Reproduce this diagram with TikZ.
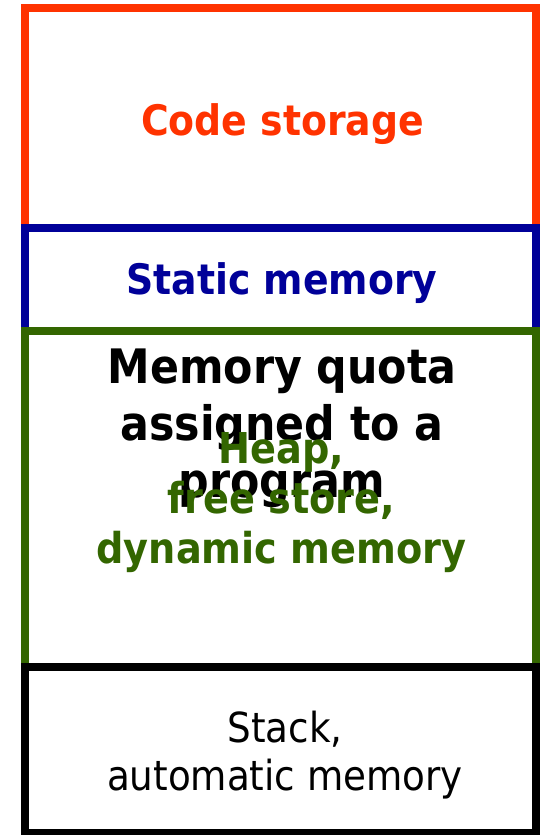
\documentclass[tikz,border=0pt]{standalone}
\usepackage{fontspec}
\setmainfont{DejaVu Sans Condensed}
\definecolor{cred}{HTML}{FF3300}
\definecolor{cblue}{HTML}{000099}
\definecolor{cgreen}{HTML}{336600}
\begin{document}
\begin{tikzpicture}[x=1pt,y=-1pt,
  region/.style={line width=8pt},
  lbl/.style={font=\bfseries\fontsize{42}{50}\selectfont, align=center, inner sep=0pt, anchor=base}]
\useasboundingbox (0,0) rectangle (539,835);
\draw[region,cred] (24.5,8) rectangle (536,228);
\draw[region,cblue] (24.5,228) rectangle (536,331);
\draw[region,cgreen] (24.5,331) rectangle (536,667);
\draw[region,black] (25,667) rectangle (536,833);
\node[lbl,cred] (code) at (282.5,135) {Code storage};
\node[lbl,cblue] (static) at (282,294) {Static memory};
\node[lbl,black,font=\bfseries\fontsize{47.5}{57}\selectfont] (quota) at (282,497) {Memory quota\\assigned to a\\program};
\node[lbl,cgreen,font=\bfseries\fontsize{42.5}{50}\selectfont] (heap) at (281.5,563) {Heap,\\free store,\\dynamic memory};
\node[lbl,black,font=\fontsize{41.4}{48}\selectfont] (stack) at (285,790) {Stack,\\automatic memory};
\end{tikzpicture}
\end{document}
